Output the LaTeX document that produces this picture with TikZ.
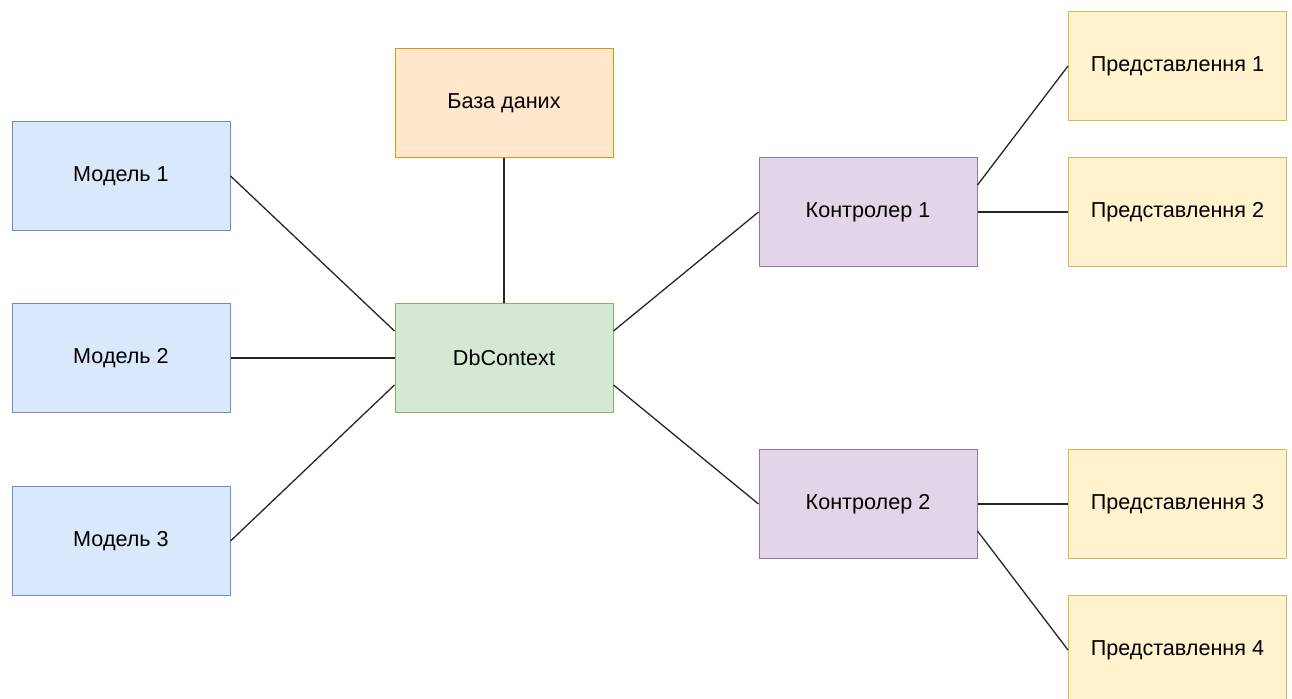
\documentclass[tikz,border=0pt]{standalone}
\usepackage{fontspec}
\setmainfont{Liberation Sans}
\usepackage{tikz}
\usetikzlibrary{arrows,shapes}
\definecolor{modelfill}{HTML}{DAE8FC}
\definecolor{modeldraw}{HTML}{6C8EBF}
\definecolor{basefill}{HTML}{FFE6CC}
\definecolor{basedraw}{HTML}{D79B00}
\definecolor{ctxfill}{HTML}{D5E8D4}
\definecolor{ctxdraw}{HTML}{82B366}
\definecolor{ctrlfill}{HTML}{E1D5E7}
\definecolor{ctrldraw}{HTML}{9673A6}
\definecolor{viewfill}{HTML}{FFF2CC}
\definecolor{viewdraw}{HTML}{D6B656}
\tikzstyle{box}=[rectangle,minimum width=109pt,minimum height=54.5pt,inner sep=0pt,line width=0.5pt,font=\fontsize{10.8}{13}\selectfont]
\tikzstyle{model box} = [box, fill=modelfill, draw=modeldraw]
\tikzstyle{base box} = [box, fill=basefill, draw=basedraw]
\tikzstyle{context box} = [box, fill=ctxfill, draw=ctxdraw]
\tikzstyle{controller box} = [box, fill=ctrlfill, draw=ctrldraw]
\tikzstyle{view box} = [box, fill=viewfill, draw=viewdraw]
\tikzstyle{link} = [draw,line width=0.65pt,black!85,-]

\begin{document}
\begin{tikzpicture}[x=0.5pt,y=-0.5pt]
    \useasboundingbox (0,0) rectangle (1292,699);
    % Models on the left
    \foreach \pos/\name/\text in {{(121,176)/m1/Модель 1}, {(121,358)/m2/Модель 2}, {(121,541)/m3/Модель 3}}
        \node[model box] (\name) at \pos {\text};
    % Database and context
    \node[base box] (bd) at (504,103) {База даних};
    \node[context box] (db) at (504,358) {DbContext};
    % Controllers
    \foreach \pos/\name/\text in {{(868,212)/k1/Контролер 1}, {(868,504)/k2/Контролер 2}}
        \node[controller box] (\name) at \pos {\text};
    % Views on the right
    \foreach \pos/\name/\text in {{(1177.5,66)/p1/Представлення 1}, {(1177.5,212)/p2/Представлення 2}, {(1177.5,504)/p3/Представлення 3}, {(1177.5,650)/p4/Представлення 4}}
        \node[view box] (\name) at \pos {\text};
    % Connect boxes
    \path[link] (m1.east) -- ([yshift=13.5pt]db.west);
    \path[link] (m2.east) -- (db.west);
    \path[link] (m3.east) -- ([yshift=-13.5pt]db.west);
    \path[link] (bd.south) -- (db.north);
    \path[link] ([yshift=13.5pt]db.east) -- (k1.west);
    \path[link] ([yshift=-13.5pt]db.east) -- (k2.west);
    \path[link] ([yshift=13.5pt]k1.east) -- (p1.west);
    \path[link] (k1.east) -- (p2.west);
    \path[link] (k2.east) -- (p3.west);
    \path[link] ([yshift=-13.5pt]k2.east) -- (p4.west);
\end{tikzpicture}
\end{document}
